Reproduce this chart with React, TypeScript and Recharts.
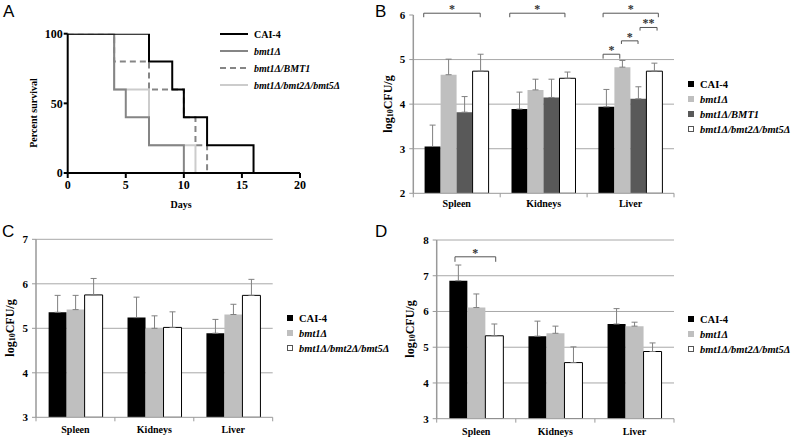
import React from 'react';
import {
  LineChart, Line, BarChart, Bar, XAxis, YAxis, CartesianGrid, ErrorBar,
  ReferenceLine, Legend,
} from 'recharts';

const SERIF = '"Liberation Serif", "Times New Roman", Times, serif';
const SANS = '"Liberation Sans", Arial, Helvetica, sans-serif';

// ---------------- Panel A: survival ----------------
const daysCAI4 = [0, 7, 9, 10, 12, 16];
const survCAI4 = [100, 80, 60, 40, 20, 0];
const daysBmt1 = [0, 4, 5, 7, 10];
const survBmt1 = [100, 60, 40, 20, 0];
const daysBmt1BMT1 = [0, 4, 7, 10, 11, 12];
const survBmt1BMT1 = [100, 80, 60, 40, 20, 0];
const daysTriple = [0, 4, 7, 11];
const survTriple = [100, 60, 20, 0];
const dayTicks = [0, 5, 10, 15, 20];
const survivalTicks = [0, 50, 100];

// ---------------- Organ panels ----------------
const organs = ['Spleen', 'Kidneys', 'Liver'];

// Panel B
const bCAI4 = [3.05, 3.89, 3.94];
const bCAI4Err = [0.48, 0.38, 0.39];
const bBmt1 = [4.66, 4.32, 4.83];
const bBmt1Err = [0.35, 0.24, 0.15];
const bBmt1BMT1 = [3.82, 4.15, 4.12];
const bBmt1BMT1Err = [0.35, 0.41, 0.27];
const bTriple = [4.74, 4.58, 4.74];
const bTripleErr = [0.38, 0.14, 0.18];
const bTicks = [2, 3, 4, 5, 6];
const bGrid = [3, 4, 5];

// Panel C
const cCAI4 = [5.36, 5.24, 4.89];
const cCAI4Err = [0.38, 0.46, 0.31];
const cBmt1 = [5.42, 5.0, 5.31];
const cBmt1Err = [0.32, 0.28, 0.23];
const cTriple = [5.75, 5.02, 5.74];
const cTripleErr = [0.37, 0.35, 0.36];
const cTicks = [3, 4, 5, 6, 7];
const cGrid = [4, 5, 6, 7];

// Panel D
const dCAI4 = [6.86, 5.31, 5.65];
const dCAI4Err = [0.44, 0.42, 0.43];
const dBmt1 = [6.11, 5.39, 5.59];
const dBmt1Err = [0.38, 0.2, 0.11];
const dTriple = [5.32, 4.57, 4.88];
const dTripleErr = [0.33, 0.44, 0.24];
const dTicks = [3, 4, 5, 6, 7, 8];
const dGrid = [4, 5, 6, 7, 8];

// significance brackets (x in category units 0..3, y in data units)
const bBrackets = [
  { x1: 0.12, x2: 0.77, y: 6.04, drop: 5.95, text: '*' },
  { x1: 1.11, x2: 1.745, y: 6.04, drop: 5.95, text: '*' },
  { x1: 2.184, x2: 2.82, y: 6.04, drop: 5.95, text: '*' },
  { x1: 2.609, x2: 2.805, y: 5.72, drop: 5.65, text: '**' },
  { x1: 2.395, x2: 2.586, y: 5.42, drop: 5.35, text: '*' },
  { x1: 2.184, x2: 2.376, y: 5.12, drop: 5.02, text: '*' },
];
const dBrackets = [{ x1: 0.231, x2: 0.746, y: 7.53, drop: 7.39, text: '*' }];
const categoryEdges = [0, 1, 2, 3];

type SeriesKey = 'cai4' | 'bmt1' | 'bmt1BMT1' | 'triple';
const SERIES: Record<SeriesKey, { name: string; fill: string; stroke: string; italic: boolean }> = {
  cai4: { name: 'CAI-4', fill: '#000000', stroke: 'none', italic: false },
  bmt1: { name: 'bmt1Δ', fill: '#bfbfbf', stroke: 'none', italic: true },
  bmt1BMT1: { name: 'bmt1Δ/BMT1', fill: '#595959', stroke: 'none', italic: true },
  triple: { name: 'bmt1Δ/bmt2Δ/bmt5Δ', fill: '#ffffff', stroke: '#000000', italic: true },
};

const buildRows = (series: Partial<Record<SeriesKey, [number[], number[]]>>) =>
  organs.map((organ, i) => {
    const row: any = { organ, idx: i };
    (Object.keys(series) as SeriesKey[]).forEach((k) => {
      const pair = series[k]!;
      row[k] = pair[0][i];
      row[k + 'Err'] = [0, pair[1][i]];
    });
    return row;
  });

const bRows = buildRows({
  cai4: [bCAI4, bCAI4Err], bmt1: [bBmt1, bBmt1Err],
  bmt1BMT1: [bBmt1BMT1, bBmt1BMT1Err], triple: [bTriple, bTripleErr],
});
const cRows = buildRows({ cai4: [cCAI4, cCAI4Err], bmt1: [cBmt1, cBmt1Err], triple: [cTriple, cTripleErr] });
const dRows = buildRows({ cai4: [dCAI4, dCAI4Err], bmt1: [dBmt1, dBmt1Err], triple: [dTriple, dTripleErr] });

const toPts = (xs: number[], ys: number[]) => xs.map((x, i) => ({ day: x, pct: ys[i] }));

const tickStyle = (size: number) => ({ fill: '#000', fontSize: size, fontWeight: 'bold', fontFamily: SERIF });

const Log10Title = ({ x, y }: { x: number; y: number }) => (
  <text x={0} y={0} transform={`translate(${x},${y}) rotate(-90)`} textAnchor="middle"
    dominantBaseline="central" fontFamily={SERIF} fontWeight="bold" fontSize={12} fill="#000">
    log<tspan fontSize={8} dy={2}>10</tspan><tspan dy={-2}>CFU/g</tspan>
  </text>
);

const nameText = (name: string, italic: boolean, size: number) => (
  <span style={{ fontFamily: SERIF, fontWeight: 'bold', fontStyle: italic ? 'italic' : 'normal', fontSize: size, color: '#000', whiteSpace: 'nowrap' }}>{name}</span>
);

const BoxLegend = ({ keys, rowH }: { keys: SeriesKey[]; rowH: number }) => (
  <div>
    {keys.map((k) => (
      <div key={k} style={{ height: rowH, display: 'flex', alignItems: 'center' }}>
        <span style={{ display: 'inline-block', width: 6, height: 6, boxSizing: 'border-box', background: SERIES[k].fill, border: k === 'triple' ? '1px solid #555' : 'none', marginRight: 6 }} />
        {nameText(SERIES[k].name, SERIES[k].italic, 10.5)}
      </div>
    ))}
  </div>
);

const lineSeries = [
  { key: 'cai4' as SeriesKey, stroke: '#000000', dash: undefined as string | undefined },
  { key: 'bmt1' as SeriesKey, stroke: '#858585', dash: undefined },
  { key: 'bmt1BMT1' as SeriesKey, stroke: '#858585', dash: '6 4' },
  { key: 'triple' as SeriesKey, stroke: '#cccccc', dash: undefined },
];

const LineLegend = () => (
  <div>
    {lineSeries.map((s) => (
      <div key={s.key} style={{ height: 17, display: 'flex', alignItems: 'center' }}>
        <svg width={28} height={4} style={{ marginRight: 6 }}>
          <line x1={0} y1={2} x2={28} y2={2} stroke={s.stroke} strokeWidth={2} strokeDasharray={s.dash} />
        </svg>
        {nameText(SERIES[s.key].name, SERIES[s.key].italic, 10)}
      </div>
    ))}
  </div>
);

const SurvivalChart = () => (
  <LineChart width={380} height={220} margin={{ top: 33.7, right: 80, bottom: 17, left: 20 }}>
    <XAxis type="number" dataKey="day" domain={[0, 20]} ticks={dayTicks} allowDataOverflow
      axisLine={{ stroke: '#000', strokeWidth: 2 }} tickLine={{ stroke: '#000', strokeWidth: 2 }}
      tickSize={5} tickMargin={2} tick={tickStyle(12)} height={30}
      label={() => <text x={181} y={208} textAnchor="middle" fontFamily={SERIF} fontWeight="bold" fontSize={10} fill="#000">Days</text>} />
    <YAxis type="number" domain={[0, 100]} ticks={survivalTicks} width={47.7} allowDataOverflow
      axisLine={{ stroke: '#000', strokeWidth: 2 }} tickLine={{ stroke: '#000', strokeWidth: 2 }}
      tickSize={4} tickMargin={1} tick={tickStyle(12)}
      label={() => <text x={0} y={0} transform="translate(33,113) rotate(-90)" textAnchor="middle" dominantBaseline="central" fontFamily={SERIF} fontWeight="bold" fontSize={10} fill="#000">Percent survival</text>} />
    <Line data={toPts(daysTriple, survTriple)} dataKey="pct" name={SERIES.triple.name} type="stepAfter" stroke="#cccccc" strokeWidth={2} dot={false} isAnimationActive={false} />
    <Line data={toPts(daysBmt1BMT1, survBmt1BMT1)} dataKey="pct" name={SERIES.bmt1BMT1.name} type="stepAfter" stroke="#858585" strokeDasharray="6 4" strokeWidth={2} dot={false} isAnimationActive={false} />
    <Line data={toPts(daysBmt1, survBmt1)} dataKey="pct" name={SERIES.bmt1.name} type="stepAfter" stroke="#858585" strokeWidth={2} dot={false} isAnimationActive={false} />
    <Line data={toPts(daysCAI4, survCAI4)} dataKey="pct" name={SERIES.cai4.name} type="stepAfter" stroke="#000000" strokeWidth={2} dot={false} isAnimationActive={false} />
    <Legend layout="vertical" align="center" verticalAlign="middle" content={() => <LineLegend />}
      wrapperStyle={{ left: 220, top: 25.5, width: 160, height: 70 }} />
  </LineChart>
);

type Bracket = { x1: number; x2: number; y: number; drop: number; text: string };

type OrganProps = {
  rows: any[]; keys: SeriesKey[]; domain: [number, number]; ticks: number[]; grid: number[];
  brackets: Bracket[]; width: number; height: number;
  margin: { top: number; right: number; bottom: number; left: number };
  yWidth: number; xHeight: number; gap: string; tickDrop: number;
  legendLeft: number; legendTop: number; titleX: number; titleY: number; catMargin: number;
};

const OrganChart = (p: OrganProps) => {
  const els: React.ReactNode[] = [];
  p.brackets.forEach((b, k) => {
    els.push(
      <ReferenceLine key={`h${k}`} xAxisId="n" ifOverflow="visible" stroke="#555" strokeWidth={1}
        segment={[{ x: b.x1, y: b.y }, { x: b.x2, y: b.y }]}
        label={{ value: b.text, position: 'top', offset: 0, fill: '#333', fontSize: 12, fontWeight: 'bold', fontFamily: SERIF }} />,
      <ReferenceLine key={`l${k}`} xAxisId="n" ifOverflow="visible" stroke="#555" strokeWidth={1}
        segment={[{ x: b.x1, y: b.y }, { x: b.x1, y: b.drop }]} />,
      <ReferenceLine key={`r${k}`} xAxisId="n" ifOverflow="visible" stroke="#555" strokeWidth={1}
        segment={[{ x: b.x2, y: b.y }, { x: b.x2, y: b.drop }]} />,
    );
  });
  categoryEdges.forEach((v) => {
    els.push(
      <ReferenceLine key={`t${v}`} xAxisId="n" ifOverflow="visible" stroke="#999" strokeWidth={1}
        segment={[{ x: v, y: p.domain[0] }, { x: v, y: p.domain[0] - p.tickDrop }]} />,
    );
  });
  return (
    <BarChart width={p.width} height={p.height} data={p.rows} margin={p.margin}
      barCategoryGap={p.gap} barGap={0}>
      <CartesianGrid vertical={false} horizontalValues={p.grid} stroke="#a8a8a8" strokeWidth={1} />
      <XAxis dataKey="organ" height={p.xHeight} axisLine={{ stroke: '#999', strokeWidth: 1 }} tickLine={false}
        tickSize={6} tickMargin={p.catMargin} tick={tickStyle(10)} interval={0} />
      <XAxis xAxisId="n" dataKey="idx" type="number" scale="linear" domain={[0, 3]} hide allowDataOverflow />
      <YAxis domain={p.domain} ticks={p.ticks} width={p.yWidth} allowDataOverflow
        axisLine={{ stroke: '#999', strokeWidth: 1.5 }} tickLine={{ stroke: '#999' }} tickSize={4} tickMargin={4}
        tick={tickStyle(11)} label={() => <Log10Title x={p.titleX} y={p.titleY} />} />
      {p.keys.map((k) => (
        <Bar key={k} dataKey={k} name={SERIES[k].name} fill={SERIES[k].fill}
          stroke={SERIES[k].stroke} strokeWidth={k === 'triple' ? 1 : 0} isAnimationActive={false}>
          <ErrorBar dataKey={k + 'Err'} width={3} stroke="#808080" strokeWidth={1} direction="y" />
        </Bar>
      ))}
      {els}
      <Legend layout="vertical" align="center" verticalAlign="middle"
        content={() => <BoxLegend keys={p.keys} rowH={15} />}
        wrapperStyle={{ left: p.legendLeft, top: p.legendTop, width: 110, height: 'auto' }} />
    </BarChart>
  );
};

const letter = (t: string, left: number, top: number) => (
  <div style={{ position: 'absolute', left, top, fontFamily: SANS, fontSize: 17, lineHeight: 1, color: '#000' }}>{t}</div>
);

export default function App() {
  return (
    <div style={{ position: 'absolute', left: 0, top: 0, width: 792, height: 437, background: '#fff', overflow: 'hidden' }}>
      <div style={{ position: 'absolute', left: 0, top: 0 }}>
        <SurvivalChart />
      </div>
      <div style={{ position: 'absolute', left: 380, top: 0 }}>
        <OrganChart rows={bRows} keys={['cai4', 'bmt1', 'bmt1BMT1', 'triple']} domain={[2, 6]} ticks={bTicks}
          grid={bGrid} brackets={bBrackets} width={412} height={220}
          margin={{ top: 15, right: 118, bottom: 6.7, left: 10 }} yWidth={23.3} xHeight={20} gap="13%" tickDrop={0.09}
          legendLeft={308} legendTop={76.5} titleX={8} titleY={104} catMargin={1} />
      </div>
      <div style={{ position: 'absolute', left: 0, top: 220 }}>
        <OrganChart rows={cRows} keys={['cai4', 'bmt1', 'triple']} domain={[3, 7]} ticks={cTicks}
          grid={cGrid} brackets={[]} width={400} height={217}
          margin={{ top: 19.3, right: 127.3, bottom: 1.7, left: 10 }} yWidth={26} xHeight={18} gap="16%" tickDrop={0.09}
          legendLeft={287} legendTop={90.5} titleX={10} titleY={108} catMargin={3} />
      </div>
      <div style={{ position: 'absolute', left: 400, top: 220 }}>
        <OrganChart rows={dRows} keys={['cai4', 'bmt1', 'triple']} domain={[3, 8]} ticks={dTicks}
          grid={dGrid} brackets={dBrackets} width={392} height={217}
          margin={{ top: 20, right: 118, bottom: 1.3, left: 10 }} yWidth={26.7} xHeight={17} gap="16%" tickDrop={0.11}
          legendLeft={288} legendTop={91.5} titleX={10} titleY={109} catMargin={3} />
      </div>
      {letter('A', 3, 3)}
      {letter('B', 375, 3)}
      {letter('C', 2, 223)}
      {letter('D', 375, 223)}
    </div>
  );
}
